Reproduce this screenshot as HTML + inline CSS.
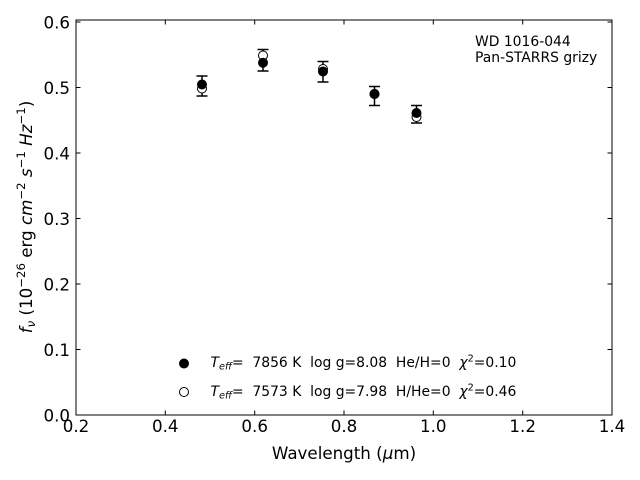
<!DOCTYPE html>
<html>
<head>
<meta charset="utf-8">
<style>
html,body{margin:0;padding:0;background:#fff;}
svg{display:block;}
text{font-family:"DejaVu Sans","Liberation Sans",sans-serif;fill:#000;}
</style>
</head>
<body>
<svg width="640" height="480" viewBox="0 0 640 480" xmlns="http://www.w3.org/2000/svg">
<rect x="0" y="0" width="640" height="480" fill="#fff"/>

<!-- ticks (inward, all sides) -->
<g stroke="#000" stroke-width="1">
  <line x1="165.3" y1="415" x2="165.3" y2="410.5"/>
  <line x1="254.7" y1="415" x2="254.7" y2="410.5"/>
  <line x1="344" y1="415" x2="344" y2="410.5"/>
  <line x1="433.3" y1="415" x2="433.3" y2="410.5"/>
  <line x1="522.7" y1="415" x2="522.7" y2="410.5"/>
  <line x1="165.3" y1="20" x2="165.3" y2="24.5"/>
  <line x1="254.7" y1="20" x2="254.7" y2="24.5"/>
  <line x1="344" y1="20" x2="344" y2="24.5"/>
  <line x1="433.3" y1="20" x2="433.3" y2="24.5"/>
  <line x1="522.7" y1="20" x2="522.7" y2="24.5"/>

  <line x1="76" y1="349.5" x2="80.5" y2="349.5"/>
  <line x1="76" y1="284" x2="80.5" y2="284"/>
  <line x1="76" y1="218.5" x2="80.5" y2="218.5"/>
  <line x1="76" y1="153" x2="80.5" y2="153"/>
  <line x1="76" y1="87.5" x2="80.5" y2="87.5"/>
  <line x1="76" y1="22" x2="80.5" y2="22"/>
  <line x1="612" y1="349.5" x2="607.5" y2="349.5"/>
  <line x1="612" y1="284" x2="607.5" y2="284"/>
  <line x1="612" y1="218.5" x2="607.5" y2="218.5"/>
  <line x1="612" y1="153" x2="607.5" y2="153"/>
  <line x1="612" y1="87.5" x2="607.5" y2="87.5"/>
  <line x1="612" y1="22" x2="607.5" y2="22"/>
</g>

<!-- axes frame -->
<rect x="76" y="20" width="536" height="395" fill="none" stroke="#000" stroke-width="1"/>

<!-- x tick labels -->
<g font-size="16.7" text-anchor="middle">
  <text x="76" y="432">0.2</text>
  <text x="165.3" y="432">0.4</text>
  <text x="254.7" y="432">0.6</text>
  <text x="344" y="432">0.8</text>
  <text x="433.3" y="432">1.0</text>
  <text x="522.7" y="432">1.2</text>
  <text x="612" y="432">1.4</text>
</g>
<!-- y tick labels -->
<g font-size="16.7" text-anchor="end">
  <text x="70" y="421.5">0.0</text>
  <text x="70" y="356">0.1</text>
  <text x="70" y="290.5">0.2</text>
  <text x="70" y="225">0.3</text>
  <text x="70" y="159.5">0.4</text>
  <text x="70" y="94">0.5</text>
  <text x="70" y="28.5">0.6</text>
</g>

<!-- x label -->
<text x="344" y="459" font-size="16.7" text-anchor="middle" style="white-space:pre">Wavelength (<tspan font-style="italic">μ</tspan>m)</text>

<!-- y label -->
<text transform="translate(32,217) rotate(-90)" font-size="16.7" text-anchor="middle" style="white-space:pre"><tspan font-style="italic">f</tspan><tspan font-style="italic" font-size="11.7" dy="3">ν</tspan><tspan dy="-3"> (10</tspan><tspan font-size="11.7" dy="-7">−26</tspan><tspan dy="7"> erg </tspan><tspan font-style="italic">cm</tspan><tspan font-size="11.7" dy="-7">−2</tspan><tspan dy="7"> </tspan><tspan font-style="italic">s</tspan><tspan font-size="11.7" dy="-7">−1</tspan><tspan dy="7"> </tspan><tspan font-style="italic">Hz</tspan><tspan font-size="11.7" dy="-7">−1</tspan><tspan dy="7">)</tspan></text>

<!-- error bars -->
<g stroke="#000" stroke-width="1.5" fill="none">
  <line x1="202" y1="76" x2="202" y2="96"/>
  <line x1="196.5" y1="76" x2="207.5" y2="76"/>
  <line x1="196.5" y1="96" x2="207.5" y2="96"/>

  <line x1="263" y1="49.5" x2="263" y2="71"/>
  <line x1="257.5" y1="49.5" x2="268.5" y2="49.5"/>
  <line x1="257.5" y1="71" x2="268.5" y2="71"/>

  <line x1="323" y1="61.5" x2="323" y2="82"/>
  <line x1="317.5" y1="61.5" x2="328.5" y2="61.5"/>
  <line x1="317.5" y1="82" x2="328.5" y2="82"/>

  <line x1="374.5" y1="86.5" x2="374.5" y2="105.5"/>
  <line x1="369" y1="86.5" x2="380" y2="86.5"/>
  <line x1="369" y1="105.5" x2="380" y2="105.5"/>

  <line x1="416.5" y1="105.5" x2="416.5" y2="123"/>
  <line x1="411" y1="105.5" x2="422" y2="105.5"/>
  <line x1="411" y1="123" x2="422" y2="123"/>
</g>

<!-- open circles (model 2) -->
<g fill="#fff" stroke="#000" stroke-width="1">
  <circle cx="202" cy="88.5" r="4.5"/>
  <circle cx="263" cy="55.5" r="4.5"/>
  <circle cx="323" cy="69" r="4.5"/>
  <circle cx="374.5" cy="94" r="4.5"/>
  <circle cx="416.5" cy="117" r="4.5"/>
</g>
<!-- filled circles (model 1) -->
<g fill="#000" stroke="#000" stroke-width="1">
  <circle cx="202" cy="84.5" r="4.5"/>
  <circle cx="263" cy="62.7" r="4.5"/>
  <circle cx="323" cy="71.5" r="4.5"/>
  <circle cx="374.5" cy="94" r="4.5"/>
  <circle cx="416.5" cy="113" r="4.5"/>
</g>

<!-- annotation -->
<text x="475" y="46" font-size="13.9">WD 1016-044</text>
<text x="475" y="62" font-size="13.9">Pan-STARRS grizy</text>

<!-- legend -->
<circle cx="184" cy="363.5" r="4.5" fill="#000" stroke="#000" stroke-width="1"/>
<circle cx="184" cy="392" r="4.5" fill="#fff" stroke="#000" stroke-width="1"/>
<text x="210.5" y="367" font-size="13.9" style="white-space:pre"><tspan font-style="italic">T</tspan><tspan font-style="italic" font-size="9.7" dy="2.5">eff</tspan><tspan dy="-2.5">=  7856 K  log g=8.08  He/H=0  </tspan><tspan font-style="italic">χ</tspan><tspan font-size="9.7" dy="-5.5">2</tspan><tspan dy="5.5">=0.10</tspan></text>
<text x="210.5" y="396" font-size="13.9" style="white-space:pre"><tspan font-style="italic">T</tspan><tspan font-style="italic" font-size="9.7" dy="2.5">eff</tspan><tspan dy="-2.5">=  7573 K  log g=7.98  H/He=0  </tspan><tspan font-style="italic">χ</tspan><tspan font-size="9.7" dy="-5.5">2</tspan><tspan dy="5.5">=0.46</tspan></text>
</svg>
</body>
</html>
